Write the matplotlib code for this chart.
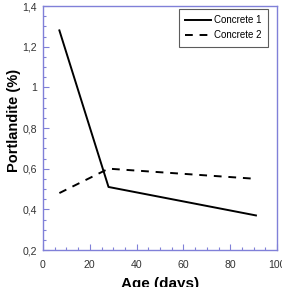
import matplotlib
matplotlib.use("Agg")
import matplotlib.pyplot as plt
from matplotlib.ticker import MultipleLocator, FuncFormatter

plt.rcParams['font.family'] = ['Liberation Sans', 'DejaVu Sans']

age = [7, 28, 91]
concrete1 = [1.28, 0.51, 0.37]
concrete2 = [0.48, 0.60, 0.55]
series_names = ["Concrete 1", "Concrete 2"]
x_ticks = [0, 20, 40, 60, 80, 100]
y_ticks = [0.2, 0.4, 0.6, 0.8, 1.0, 1.2, 1.4]

fig = plt.figure(figsize=(2.82, 2.87), dpi=100)
ax = fig.add_axes([43/282, 37/287, 234/282, 244/287])

ax.plot(age, concrete1, color='black', lw=1.4, label=series_names[0])
ax.plot(age, concrete2, color='black', lw=1.4, dashes=(4, 3.5), label=series_names[1])

ax.set_xlim(0, 100)
ax.set_ylim(0.2, 1.4)
ax.set_xticks(x_ticks)
ax.set_yticks(y_ticks)
ax.xaxis.set_minor_locator(MultipleLocator(5))
ax.yaxis.set_minor_locator(MultipleLocator(0.05))

def yfmt(v, pos):
    s = ('%.1f' % v)
    if s.endswith('.0'):
        s = s[:-2]
    return s.replace('.', ',')
ax.yaxis.set_major_formatter(FuncFormatter(yfmt))

spine_color = '#8080d8'
for side in ['left', 'right', 'top', 'bottom']:
    ax.spines[side].set_color(spine_color)
    ax.spines[side].set_linewidth(1.0)

ax.tick_params(which='both', direction='in', colors=spine_color, labelcolor='#333333',
               labelsize=7.6, top=False, right=False)
ax.tick_params(which='major', length=4, width=0.8)
ax.tick_params(which='minor', length=2, width=0.8)
ax.tick_params(axis='x', which='major', pad=7.5)
ax.tick_params(axis='y', which='major', pad=4.3)

ax.set_xlabel('Age (days)', fontsize=11, fontweight='bold', va='top')
ax.xaxis.set_label_coords(0.5, -0.11)
ax.set_ylabel('Portlandite (%)', fontsize=10.5, fontweight='bold')
ax.yaxis.set_label_coords(-0.095, 0.53)

leg = ax.legend(loc='upper right', bbox_to_anchor=(0.9615, 0.9877), borderaxespad=0,
                fontsize=7, frameon=True, fancybox=False,
                edgecolor='#333333', handlelength=2.7,
                handletextpad=0.3, borderpad=0.65, labelspacing=0.5)
leg.get_frame().set_linewidth(0.8)

fig.savefig('out.png', dpi=100)
